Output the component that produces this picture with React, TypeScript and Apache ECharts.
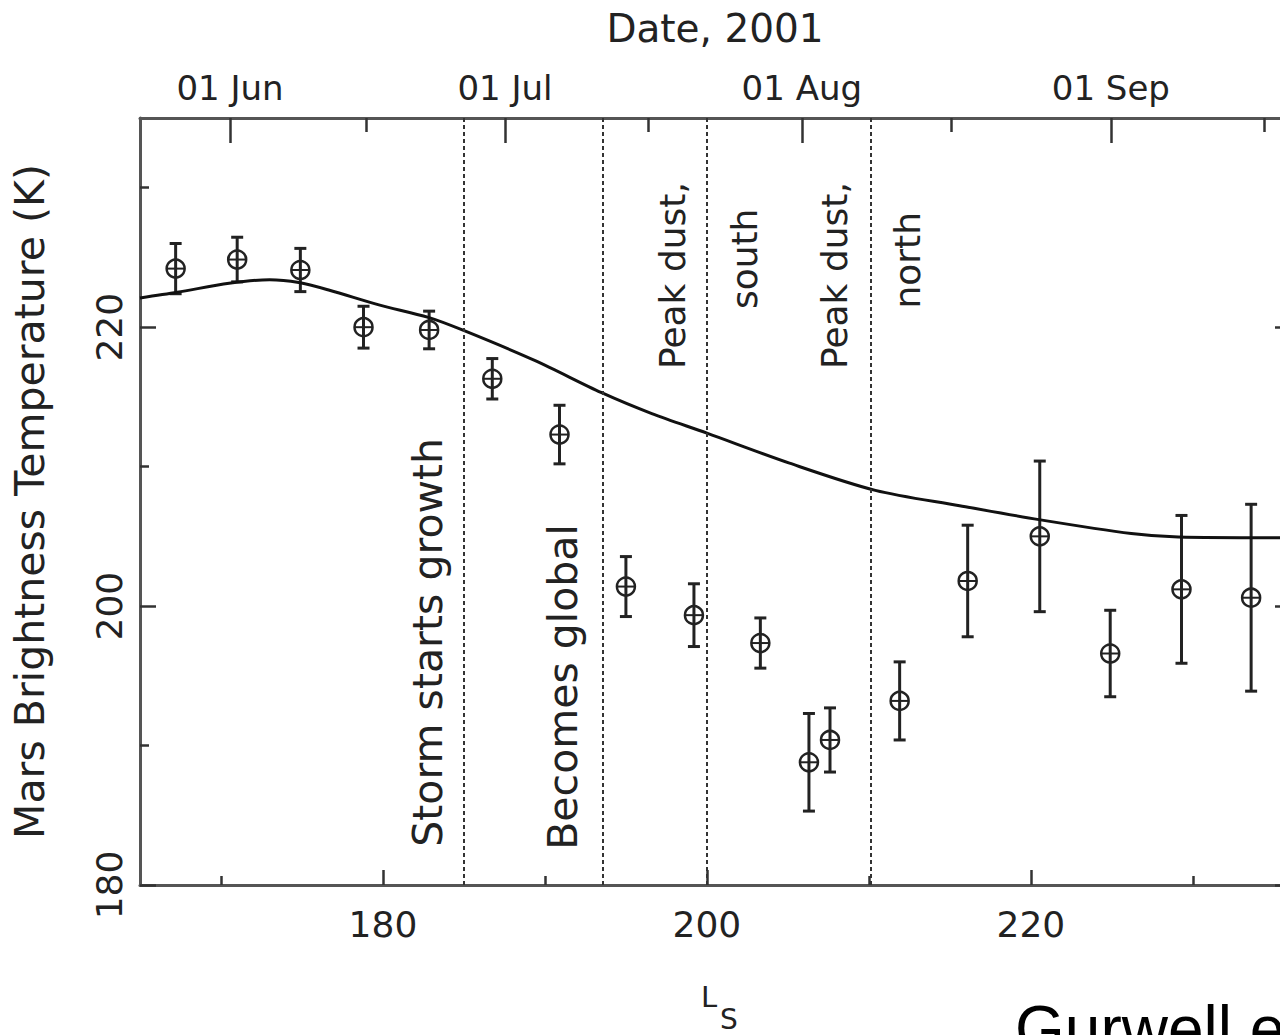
import React, { useEffect, useRef } from 'react';
import * as echarts from 'echarts';

// Axis extents
const lsMin = 165;
const lsMax = 236;
const tempMin = 180;
const tempMax = 235;

// Bottom (solar longitude) ticks
const lsMajorTicks = [180, 200, 220];
const lsMinorTicks = [170, 190, 210, 230];

// Left / right temperature ticks
const tempMajorTicks = [180, 200, 220];
const tempMinorTicks = [190, 210, 230];

// Top calendar axis: where each date falls in Ls
const dateLabels = ['01 Jun', '01 Jul', '01 Aug', '01 Sep'];
const dateMajorLs = [170.56, 187.53, 205.86, 224.94];
const dateMinorLs = [178.95, 196.36, 215.06, 234.44];

// Observed brightness temperatures with 1-sigma errors
const obsLs = [167.2, 171.0, 174.9, 178.8, 182.85, 186.75, 190.9, 195.0, 199.2, 203.3, 206.3, 207.6, 211.9, 216.1, 220.55, 224.9, 229.3, 233.6];
const obsTemp = [224.2, 224.85, 224.1, 220.0, 219.8, 216.3, 212.3, 201.4, 199.35, 197.35, 188.8, 190.4, 193.2, 201.8, 205.0, 196.6, 201.2, 200.6];
const obsErr = [1.8, 1.6, 1.55, 1.5, 1.35, 1.45, 2.1, 2.15, 2.25, 1.8, 3.5, 2.3, 2.8, 4.0, 5.4, 3.1, 5.3, 6.7];

// Dust-free model curve
const modelLs = [165, 167.3, 170.5, 173.0, 174.8, 176.7, 179.75, 182.8, 184.9, 189.4, 193.5, 196.6, 200.0, 205.1, 210.4, 215.6, 220.5, 226.2, 229.1, 234.9, 236];
const modelTemp = [222.1, 222.5, 223.15, 223.4, 223.2, 222.65, 221.6, 220.7, 219.8, 217.6, 215.3, 213.8, 212.4, 210.25, 208.3, 207.2, 206.2, 205.2, 204.95, 204.9, 204.9];

// Dust storm milestones
const eventLs = [185.0, 193.6, 200.0, 210.1];
const annotationText = ['Storm starts growth', 'Becomes global', 'Peak dust,', 'south', 'Peak dust,', 'north'];
const annotationLs = [182.75, 191.1, 197.9, 202.3, 207.85, 212.4];
const annotationTemp = [197.4, 194.2, 223.7, 224.9, 223.7, 224.8];

const FONT = 'DejaVu Sans';
const INK = '#222';
// type size per milestone label (long lower labels are set larger)
const annotationFontSize = [41, 41, 36, 36, 36, 36];

export default function App() {
  const ref = useRef<HTMLDivElement>(null);

  useEffect(() => {
    if (!ref.current) return;
    const chart = echarts.init(ref.current, null, { renderer: 'svg' });

    const frame = { show: true, lineStyle: { color: '#555', width: 3 } };
    const noLine = { show: false };
    const tickStyle = { color: '#333', width: 2.5 };
    const lsBase = { type: 'value', min: lsMin, max: lsMax, splitLine: { show: false } };
    const tempBase = { type: 'value', min: tempMin, max: tempMax, splitLine: { show: false } };

    chart.setOption({
      animation: false,
      backgroundColor: '#fff',
      grid: { left: 140, right: 110, top: 118, bottom: 150, containLabel: false, outerBoundsMode: 'none' },
      xAxis: [
        {
          ...lsBase,
          position: 'bottom',
          axisLine: frame,
          axisTick: { inside: true, length: 15, customValues: lsMajorTicks, lineStyle: tickStyle },
          axisLabel: { customValues: lsMajorTicks, margin: 21, fontFamily: FONT, fontSize: 36, color: INK },
          // L with a lowered S subscript
          name: '{l|L}\n{s|S}',
          nameLocation: 'middle',
          nameGap: 101,
          nameTextStyle: {
            rich: {
              l: { fontFamily: FONT, fontSize: 29, color: INK, lineHeight: 22, padding: [0, 12, 0, 0] },
              s: { fontFamily: FONT, fontSize: 28, color: INK, lineHeight: 22, padding: [0, 0, 0, 28] },
            },
          },
        },
        {
          ...lsBase,
          position: 'bottom',
          axisLine: noLine,
          axisTick: { inside: true, length: 9, customValues: lsMinorTicks, lineStyle: tickStyle },
          axisLabel: { show: false },
        },
        {
          ...lsBase,
          position: 'top',
          axisLine: frame,
          axisTick: { inside: true, length: 25, customValues: dateMajorLs, lineStyle: tickStyle },
          axisLabel: {
            customValues: dateMajorLs,
            formatter: (v: number) => {
              const i = dateMajorLs.indexOf(v);
              return i >= 0 ? dateLabels[i] : '';
            },
            margin: 13,
            fontFamily: FONT,
            fontSize: 34,
            color: INK,
          },
          name: 'Date, 2001',
          nameLocation: 'middle',
          nameGap: 70,
          nameTextStyle: { fontFamily: FONT, fontSize: 39, color: INK },
        },
        {
          ...lsBase,
          position: 'top',
          axisLine: noLine,
          axisTick: { inside: true, length: 14, customValues: dateMinorLs, lineStyle: tickStyle },
          axisLabel: { show: false },
        },
      ],
      yAxis: [
        {
          ...tempBase,
          position: 'left',
          axisLine: frame,
          axisTick: { inside: true, length: 16, customValues: tempMajorTicks, lineStyle: tickStyle },
          axisLabel: { customValues: tempMajorTicks, rotate: 90, margin: 13, fontFamily: FONT, fontSize: 36, color: INK },
          name: 'Mars Brightness Temperature (K)',
          nameLocation: 'middle',
          nameRotate: 90,
          nameGap: 90,
          nameTextStyle: { fontFamily: FONT, fontSize: 41, color: INK },
        },
        {
          ...tempBase,
          position: 'left',
          axisLine: noLine,
          axisTick: { inside: true, length: 9, customValues: tempMinorTicks, lineStyle: tickStyle },
          axisLabel: { show: false },
        },
        {
          ...tempBase,
          position: 'right',
          axisLine: frame,
          axisTick: { inside: true, length: 15, customValues: tempMajorTicks, lineStyle: tickStyle },
          axisLabel: { show: false },
        },
        {
          ...tempBase,
          position: 'right',
          axisLine: noLine,
          axisTick: { inside: true, length: 9, customValues: tempMinorTicks, lineStyle: tickStyle },
          axisLabel: { show: false },
        },
      ],
      series: [
        {
          name: 'Model',
          type: 'line',
          xAxisIndex: 0,
          yAxisIndex: 0,
          data: modelLs.map((x, i) => [x, modelTemp[i]]),
          smooth: 0.3,
          showSymbol: false,
          lineStyle: { color: '#111', width: 3 },
          markLine: {
            silent: true,
            symbol: ['none', 'none'],
            label: { show: false },
            lineStyle: { type: [4, 3], color: '#333', width: 2 },
            data: eventLs.map((x) => ({ xAxis: x })),
          },
        },
        {
          name: 'Observed',
          type: 'custom',
          xAxisIndex: 0,
          yAxisIndex: 0,
          encode: { x: 0, y: 1 },
          data: obsLs.map((x, i) => [x, obsTemp[i], obsErr[i]]),
          renderItem: (_params: any, api: any) => {
            const x = api.value(0);
            const y = api.value(1);
            const e = api.value(2);
            const c = api.coord([x, y]);
            const hi = api.coord([x, y + e]);
            const lo = api.coord([x, y - e]);
            const r = 9;
            const cap = 6;
            const bar = { stroke: '#222', lineWidth: 3 };
            return {
              type: 'group',
              children: [
                { type: 'line', shape: { x1: c[0], y1: hi[1], x2: c[0], y2: lo[1] }, style: bar },
                { type: 'line', shape: { x1: c[0] - cap, y1: hi[1], x2: c[0] + cap, y2: hi[1] }, style: bar },
                { type: 'line', shape: { x1: c[0] - cap, y1: lo[1], x2: c[0] + cap, y2: lo[1] }, style: bar },
                { type: 'circle', shape: { cx: c[0], cy: c[1], r }, style: { stroke: '#222', lineWidth: 2.5, fill: 'none' } },
                { type: 'line', shape: { x1: c[0] - r, y1: c[1], x2: c[0] + r, y2: c[1] }, style: { stroke: '#222', lineWidth: 2 } },
              ],
            };
          },
        },
        {
          name: 'Milestones',
          type: 'custom',
          xAxisIndex: 0,
          yAxisIndex: 0,
          encode: { x: 0, y: 1 },
          silent: true,
          data: annotationLs.map((x, i) => [x, annotationTemp[i]]),
          renderItem: (params: any, api: any) => {
            const p = api.coord([api.value(0), api.value(1)]);
            return {
              type: 'text',
              x: p[0],
              y: p[1],
              rotation: Math.PI / 2,
              style: {
                text: annotationText[params.dataIndex],
                fontFamily: FONT,
                fontSize: annotationFontSize[params.dataIndex],
                fill: INK,
                align: 'center',
                verticalAlign: 'middle',
              },
            };
          },
        },
      ],
      graphic: [
        {
          type: 'text',
          left: 1015,
          top: 997,
          style: { text: 'Gurwell et al.', fontFamily: 'Liberation Sans', fontSize: 64, fill: '#000' },
        },
      ],
    });

    return () => chart.dispose();
  }, []);

  return (
    <div style={{ position: 'fixed', left: 0, top: 0, width: 1280, height: 1035, overflow: 'hidden', background: '#fff' }}>
      <div ref={ref} style={{ width: 1400, height: 1035 }} />
    </div>
  );
}
